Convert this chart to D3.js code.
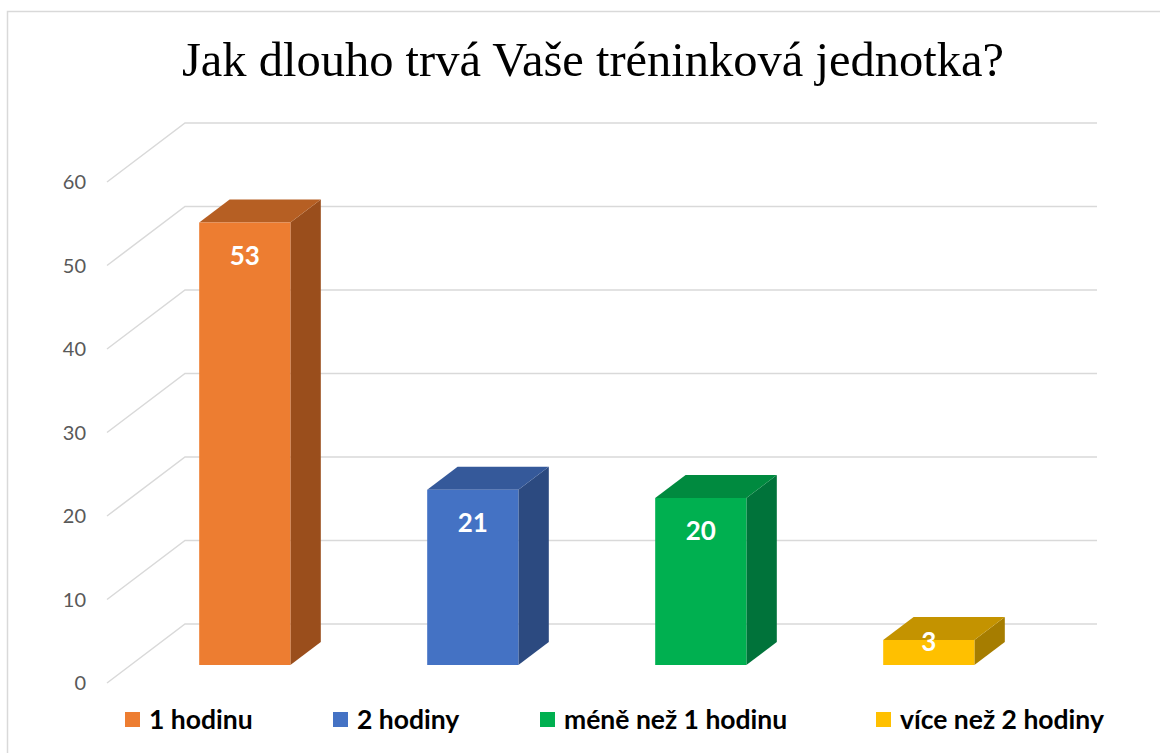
<!DOCTYPE html>
<html>
<head>
<meta charset="utf-8">
<script src="https://d3js.org/d3.v7.min.js"></script>
<style>
body { margin: 0; background: #fff; }
svg { display: block; }
</style>
</head>
<body>
<svg id="chart" width="1160" height="753"></svg>
<script>
// data
var categories = ["1 hodinu", "2 hodiny", "méně než 1 hodinu", "více než 2 hodiny"]
var values = [53, 21, 20, 3]
var yTicks = [0, 10, 20, 30, 40, 50, 60]
var title = "Jak dlouho trvá Vaše tréninková jednotka?"

var frontColors = ["#ED7D31", "#4472C4", "#00B050", "#FFC000"]
var sideColors = ["#9A4E1C", "#2C4A80", "#00733A", "#A67D00"]
var topColors = ["#B65F23", "#35599A", "#008A3F", "#C49300"]

var svg = d3.select("#chart")

// chart frame
svg.append("rect")
    .attr("x", 7.5).attr("y", 11.5)
    .attr("width", 1200).attr("height", 800)
    .style("fill", "none").style("stroke", "#D9D9D9").style("stroke-width", 1.5)

svg.append("text")
    .attr("x", 593).attr("y", 76)
    .attr("text-anchor", "middle")
    .style("font-family", "'Liberation Serif', 'Times New Roman', serif")
    .style("font-size", "48.5px")
    .style("fill", "#000")
    .text(title)

// 3d geometry
var depthX = 78, depthY = -59
var x = d3.scaleBand().domain(categories).range([107, 1019]).paddingInner(0).paddingOuter(0)
var y = d3.scaleLinear().domain([0, 60]).range([683, 182])

function pt(xf, v, d) {
    return [xf + d * depthX, y(v) + d * depthY]
}

// gridlines: back wall + side wall
var grid = svg.append("g")
for (let t of yTicks) {
    let a = pt(107, t, 0), b = pt(107, t, 1), c = pt(1019, t, 1)
    grid.append("path")
        .attr("d", d3.line()([a, b, c]))
        .style("fill", "none")
        .style("stroke", "#D9D9D9")
        .style("stroke-width", 1.5)
}

// y axis labels
svg.append("g").selectAll("text")
    .data(yTicks)
    .join("text")
    .attr("x", 86)
    .attr("y", d => y(d))
    .attr("dy", "0.35em")
    .attr("text-anchor", "end")
    .style("font-family", "Lato, 'Open Sans', sans-serif")
    .style("font-size", "20px")
    .style("fill", "#595959")
    .text(d => d)

// bars
var d0 = 0.305, d1 = 0.695
var barW = x.bandwidth() * 0.4
var bars = svg.append("g")
categories.forEach(function(c, i) {
    let xl = x(c) + (x.bandwidth() - barW) / 2
    let xr = xl + barW
    let v = values[i]
    let fbl = pt(xl, 0, d0), fbr = pt(xr, 0, d0), ftl = pt(xl, v, d0), ftr = pt(xr, v, d0)
    let bbr = pt(xr, 0, d1), btl = pt(xl, v, d1), btr = pt(xr, v, d1)
    // side
    bars.append("path").attr("d", d3.line()([fbr, bbr, btr, ftr]) + "Z").style("fill", sideColors[i])
    // top
    bars.append("path").attr("d", d3.line()([ftl, ftr, btr, btl]) + "Z").style("fill", topColors[i])
    // front
    bars.append("path").attr("d", d3.line()([fbl, fbr, ftr, ftl]) + "Z").style("fill", frontColors[i])
    // label
    let ly = (fbl[1] - ftl[1]) > 60 ? ftl[1] + 33 : ftl[1] + 2
    bars.append("text")
        .attr("x", (xl + xr) / 2 + d0 * depthX)
        .attr("y", ly)
        .attr("dy", "0.35em")
        .attr("text-anchor", "middle")
        .style("font-family", "Lato, 'Open Sans', sans-serif")
        .style("font-weight", "bold")
        .style("font-size", "26px")
        .style("fill", "#fff")
        .text(v)
})

// legend
var legendX = [125, 333, 540, 876]
var legend = svg.append("g")
categories.forEach(function(c, i) {
    legend.append("rect")
        .attr("x", legendX[i]).attr("y", 712)
        .attr("width", 15).attr("height", 15)
        .style("fill", frontColors[i])
    legend.append("text")
        .attr("x", legendX[i] + 24).attr("y", 720)
        .attr("dy", "0.35em")
        .style("font-family", "Lato, 'Open Sans', sans-serif")
        .style("font-weight", "bold")
        .style("font-size", "26.5px")
        .style("fill", "#000")
        .text(c)
})
</script>
</body>
</html>
